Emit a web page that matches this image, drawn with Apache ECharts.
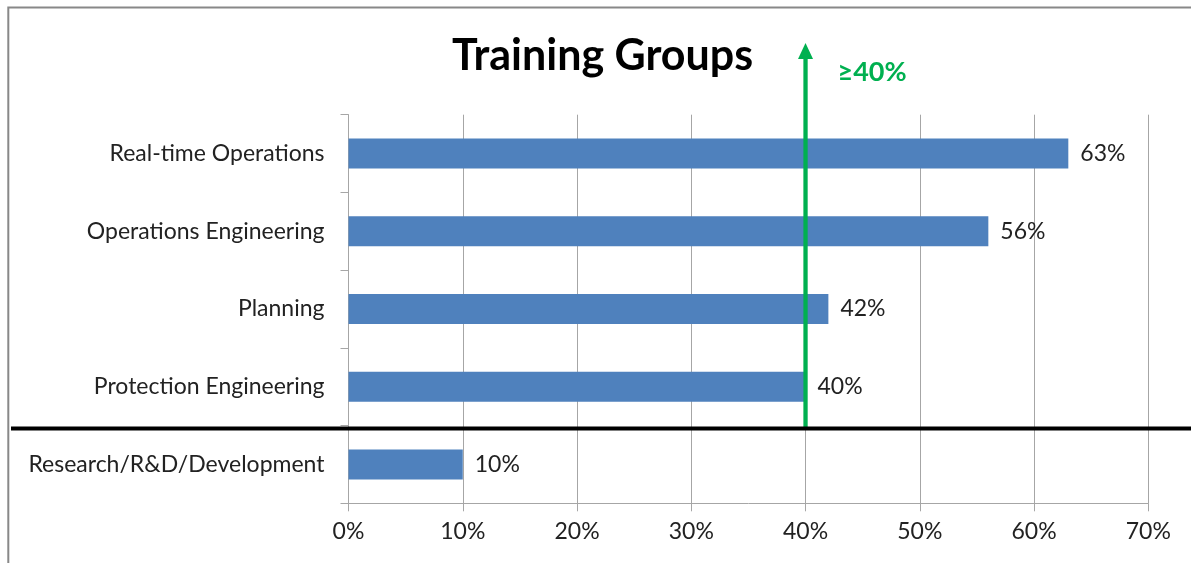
<!DOCTYPE html>
<html>
<head>
<meta charset="utf-8">
<script src="https://cdn.jsdelivr.net/npm/echarts@6/dist/echarts.min.js"></script>
<style>
  html, body { margin: 0; padding: 0; background: #fff; }
  #chart { width: 1191px; height: 563px; }
</style>
</head>
<body>
<div id="chart"></div>
<script>
// Training groups and the share of each that took part (percent)
const categories = [
  'Real-time Operations',
  'Operations Engineering',
  'Planning',
  'Protection Engineering',
  'Research/R&D/Development'
];
const shares = [63, 56, 42, 40, 10];
const axisTicks = [0, 10, 20, 30, 40, 50, 60, 70];
const threshold = 40;
const thresholdLabel = '\u226540%';

const FONT = 'Lato, "Noto Sans", sans-serif';
const GREEN = '#00B050';

const chart = echarts.init(document.getElementById('chart'), null, { renderer: 'canvas' });

const option = {
  animation: false,
  backgroundColor: '#ffffff',
  title: {
    text: 'Training Groups',
    left: 447,
    top: 30,
    textStyle: { fontFamily: FONT, fontWeight: 'bold', fontSize: 43, color: '#000' }
  },
  grid: { left: 348.5, right: 42.7, top: 114.7, bottom: 59.7, containLabel: false },
  xAxis: {
    type: 'value',
    min: axisTicks[0],
    max: axisTicks[axisTicks.length - 1],
    interval: axisTicks[1] - axisTicks[0],
    axisLine: { show: true, lineStyle: { color: '#A6A6A6', width: 1 } },
    axisTick: { show: true, length: 8, lineStyle: { color: '#A6A6A6' } },
    splitLine: { show: true, lineStyle: { color: '#A6A6A6', width: 1 } },
    axisLabel: {
      formatter: v => v + '%',
      fontFamily: FONT, fontSize: 23, color: '#222', margin: 17
    }
  },
  yAxis: {
    type: 'category',
    data: categories,
    inverse: true,
    axisLine: { show: true, lineStyle: { color: '#A6A6A6', width: 1 } },
    axisTick: { show: true, length: 8, lineStyle: { color: '#A6A6A6' } },
    splitLine: { show: false },
    axisLabel: { fontFamily: FONT, fontSize: 23, color: '#222', margin: 24 }
  },
  series: [{
    type: 'bar',
    data: shares,
    barWidth: 30,
    itemStyle: { color: '#4F81BD' },
    label: {
      show: true,
      position: 'right',
      distance: 12,
      formatter: p => p.value + '%',
      fontFamily: FONT, fontSize: 23, color: '#222'
    }
  }]
};

chart.setOption(option);

// Threshold arrow and the divider between groups, placed through the axes' scales
function drawOverlays() {
  const xT = chart.convertToPixel({ gridIndex: 0 }, [threshold, 0])[0];
  const yA = chart.convertToPixel({ yAxisIndex: 0 }, categories[3]);
  const yB = chart.convertToPixel({ yAxisIndex: 0 }, categories[4]);
  const yDiv = (yA + yB) / 2 + 3;
  const tipY = 43;
  const headH = 16;
  chart.setOption({
    graphic: [
      {
        type: 'rect', silent: true, z: 100,
        shape: { x: 8.3, y: 7.5, width: 1400, height: 1000 },
        style: { fill: 'none', stroke: '#888888', lineWidth: 2 }
      },
      {
        type: 'line', silent: true, z: 110,
        shape: { x1: 11, y1: yDiv, x2: 1191, y2: yDiv },
        style: { stroke: '#000', lineWidth: 4 }
      },
      {
        type: 'line', silent: true, z: 105,
        shape: { x1: xT, y1: yDiv, x2: xT, y2: tipY + headH - 1 },
        style: { stroke: GREEN, lineWidth: 4.3 }
      },
      {
        type: 'polygon', silent: true, z: 105,
        shape: { points: [[xT, tipY], [xT - 7.5, tipY + headH], [xT + 7.5, tipY + headH]] },
        style: { fill: GREEN }
      },
      {
        type: 'text', silent: true, z: 105,
        x: xT + 32, y: 72,
        style: {
          text: thresholdLabel,
          fill: GREEN,
          font: 'bold 27px ' + FONT,
          textVerticalAlign: 'middle',
          textAlign: 'left'
        }
      }
    ]
  });
}
drawOverlays();
</script>
</body>
</html>
